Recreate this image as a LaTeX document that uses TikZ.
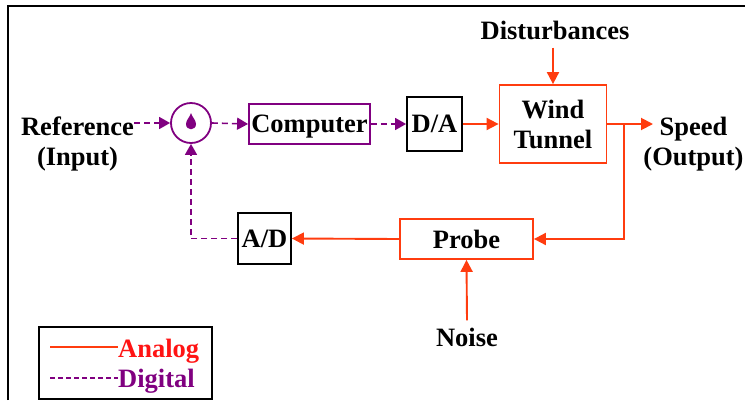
\documentclass[tikz,border=0pt]{standalone}
\usepackage{fontspec}
\setmainfont{Liberation Serif}
\usetikzlibrary{arrows.meta}
\definecolor{anred}{RGB}{255,60,15}
\definecolor{txtred}{RGB}{255,20,20}
\definecolor{digp}{RGB}{128,0,128}
\begin{document}
\begin{tikzpicture}[x=1pt,y=-1pt,
  font=\fontsize{26.5}{30}\selectfont\bfseries,
  blk/.style={draw, line width=1.8pt, inner sep=0pt, text depth=0pt},
  an/.style={anred, line width=1.9pt, -{Triangle[length=12pt,width=12pt]}},
  dig/.style={digp, line width=1.6pt, dash pattern=on 6pt off 4pt, -{Triangle[length=11pt,width=12pt]}},
  lbl/.style={inner sep=0pt, align=center}]
\useasboundingbox (0,0) rectangle (745,400);
% frame
\draw[line width=2.5pt] (8,400) -- (8,6) -- (745,6);
% blocks
\node[circle, draw=digp, line width=1.8pt, minimum size=40pt, inner sep=0pt] (sum) at (191,123) {};
\fill[digp] (191,113) .. controls (192,117) and (196,120) .. (196,124)
  .. controls (196,131) and (186,131) .. (186,124)
  .. controls (186,120) and (190,117) .. (191,113) -- cycle;
\node[blk, draw=digp, minimum width=121pt, minimum height=40pt] (comp) at (309.5,124) {Computer};
\node[blk, minimum width=55pt, minimum height=54pt] (da) at (434.5,124) {D/A};
\node[blk, draw=anred, minimum width=107pt, minimum height=78pt, align=center] (wt) at (553,124) {Wind\\Tunnel};
\node[blk, draw=anred, minimum width=133pt, minimum height=40pt] (probe) at (466.5,239) {Probe};
\node[blk, minimum width=53pt, minimum height=51pt] (ad) at (264.5,238.5) {A/D};
% labels
\node[lbl] (dist) at (555,30) {Disturbances};
\node[lbl] (noise) at (467,337) {Noise};
\node[lbl] (ref) at (77.5,144) {Reference\\(Input)};
\node[lbl] (out) at (693.5,144) {Speed\\(Output)};
\coordinate (branch) at (624,124);
\coordinate (outtip) at (653,124);
% connectors
\draw[dig] (ref.east |- sum.west) -- (sum.west);
\draw[dig] (sum.east) -- (comp.west);
\draw[dig] (comp.east) -- (da.west);
\draw[an] (da.east) -- (wt.west);
\draw[an] (dist.south -| wt.north) ++(0,8) -- (wt.north);
\draw[an] (wt.east) -- (outtip);
\draw[an] (branch) |- (probe.east);
\draw[an] (probe.west) -- (ad.east);
\draw[an] (noise.north) ++(0,-7) -- (probe.south);
\draw[dig] (ad.west) -| (sum.south);
% legend
\node[blk, minimum width=173pt, minimum height=72pt] (leg) at (125.5,363) {};
\node[lbl, text=txtred, anchor=west] (analog) at (118,351) {Analog};
\node[lbl, text=digp, anchor=west] (digital) at (118,381) {Digital};
\coordinate (la) at (50,347);
\coordinate (ld) at (50,378);
\draw[anred, line width=1.5pt] (la) -- (analog.west |- la);
\draw[digp, line width=1.5pt, dash pattern=on 5pt off 3pt] (ld) -- (digital.west |- ld);
\end{tikzpicture}
\end{document}
